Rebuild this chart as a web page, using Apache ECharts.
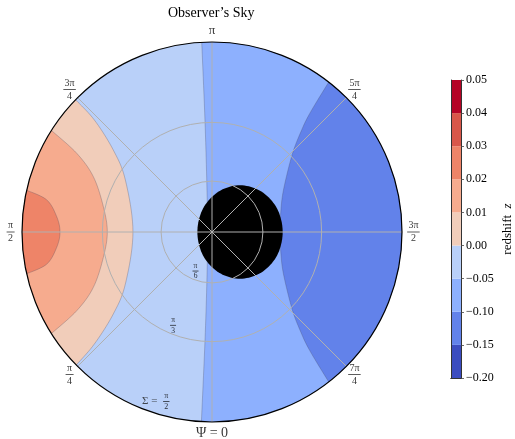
<!DOCTYPE html>
<html>
<head>
<meta charset="utf-8">
<script src="https://cdn.jsdelivr.net/npm/echarts@6/dist/echarts.min.js"></script>
<style>
html, body { margin: 0; padding: 0; background: #fff; }
#chart { width: 515px; height: 439px; }
</style>
</head>
<body>
<div id="chart"></div>
<script>
const FONT = 'Liberation Serif';

// colour bar: level ticks (bottom to top) and the colour of each band
const levelTicks = ['−0.20', '−0.15', '−0.10', '−0.05', '0.00', '0.01', '0.02', '0.03', '0.04', '0.05'];
const levelColors = ['#3b4cc0', '#6282ea', '#8db0fe', '#b9d0f9', '#f1cdba', '#f6ab8e', '#ee8468', '#d8574a', '#b40426'];

// contour edges, points are [tan(Sigma/2), Psi in degrees]
// Psi = 0 at the bottom, growing clockwise
const edgeM010 = [[1.0, 217.9], [0.809, 219.5], [0.704, 221.6], [0.585, 226.1], [0.436, 239.6], [0.377, 253.8], [0.358, 270],
                  [0.377, 286.2], [0.436, 300.4], [0.585, 313.9], [0.704, 318.4], [0.809, 320.5], [1.0, 322.1]];
const edgeM005 = [[1.0, 176.9], [0.591, 176.4], [0.223, 173.2], [0.024, 90], [0.228, 6.6], [0.570, 3.7], [1.0, 3.2]];
const edgeP000 = [[1.0, 134.1], [0.855, 133.6], [0.675, 129.7], [0.532, 121.0], [0.416, 90], [0.532, 59.0], [0.675, 50.3], [0.855, 46.4], [1.0, 45.6]];
const edgeP001 = [[1.0, 122.3], [0.824, 120.2], [0.689, 115.0], [0.587, 103.1], [0.551, 90], [0.587, 76.9], [0.689, 65.0], [0.824, 59.8], [1.0, 57.7]];
const edgeP002 = [[1.0, 102.7], [0.886, 101.0], [0.821, 95.6], [0.800, 90], [0.821, 84.4], [0.886, 79.0], [1.0, 77.3]];

// edge of the black shadow
const shadowEdge = [[0.372, 270], [0.364, 289.8], [0.336, 309.3], [0.287, 329], [0.216, 350.6], [0.132, 21], [0.077, 90], [0.132, 159], [0.216, 189.4], [0.287, 211], [0.336, 230.7], [0.364, 250.2]];

// axis ticks
const angleTicks = [0, 45, 90, 135, 180, 225, 270, 315];
const angleTickText = ['Ψ = 0', 'π/4', 'π/2', '3π/4', 'π', '5π/4', '3π/2', '7π/4'];
const radiusTicks = [0.268, 0.577, 1.0];
const radiusTickText = ['π/6', 'π/3', 'Σ = π/2'];

// painted in order, later ones on top
const regions = [
    { edge: null, color: levelColors[3] },
    { edge: edgeM005, via: 270, color: levelColors[2] },
    { edge: edgeM010, via: 270, color: levelColors[1] },
    { edge: edgeP000, via: 90, color: levelColors[4] },
    { edge: edgeP001, via: 90, color: levelColors[5] },
    { edge: edgeP002, via: 90, color: levelColors[6] },
    { shadow: true }
];

const LABEL_R = 1.06;
const RADIAL_LABEL_ANGLE = 22.5;
const radialLabelOffsets = [[3, -8], [3, -8], [15, -6]];

/**
 * rim arc from a0 to a1 that passes through "via"
 */
function rimAngles(a0, a1, via) {
    const mod = v => ((v % 360) + 360) % 360;
    const inc = mod(a1 - a0);
    const out = [];
    if (mod(via - a0) < inc) {
        for (let a = a0; a < a0 + inc; a += 2) out.push(a);
    } else {
        const dec = 360 - inc;
        for (let a = a0; a > a0 - dec; a -= 2) out.push(a);
    }
    return out;
}

/**
 * catmull-rom curve through pixel points
 */
function curveThrough(pts, closed, steps = 10) {
    const n = pts.length;
    const get = i => closed ? pts[(i + n) % n] : pts[Math.max(0, Math.min(n - 1, i))];
    const segs = closed ? n : n - 1;
    const out = [];
    for (let i = 0; i < segs; i++) {
        const p0 = get(i - 1), p1 = get(i), p2 = get(i + 1), p3 = get(i + 2);
        for (let s = 0; s < steps; s++) {
            const t = s / steps, t2 = t * t, t3 = t2 * t;
            out.push([0, 1].map(k => 0.5 * (2 * p1[k] + (p2[k] - p0[k]) * t +
                (2 * p0[k] - 5 * p1[k] + 4 * p2[k] - p3[k]) * t2 +
                (3 * p1[k] - p0[k] - 3 * p2[k] + p3[k]) * t3)));
        }
    }
    if (!closed) out.push(pts[n - 1]);
    return out;
}

function renderRegion(params, api) {
    const reg = regions[params.dataIndex];
    const c = api.coord([0, 0]);
    const rim = api.coord([1, 0]);
    const R = Math.hypot(rim[0] - c[0], rim[1] - c[1]);

    if (reg.shadow) {
        return {
            type: 'polygon',
            shape: { points: curveThrough(shadowEdge.map(p => api.coord(p)), true) },
            style: { fill: '#000' }
        };
    }
    if (!reg.edge) {
        return { type: 'circle', shape: { cx: c[0], cy: c[1], r: R }, style: { fill: reg.color } };
    }

    const edgePts = curveThrough(reg.edge.map(p => api.coord(p)), false);
    const last = reg.edge[reg.edge.length - 1][1];
    const first = reg.edge[0][1];
    const rimPts = rimAngles(last, first, reg.via).map(a => api.coord([1, a]));

    return {
        type: 'group',
        children: [
            {
                type: 'polygon',
                shape: { points: edgePts.concat(rimPts) },
                style: { fill: reg.color }
            },
            {
                type: 'polyline',
                shape: { points: edgePts },
                style: { fill: null, stroke: 'rgba(70,70,90,0.4)', lineWidth: 0.7 }
            }
        ]
    };
}

/**
 * tick text as rich text, fractions stacked
 */
function tickRich(txt, big, small) {
    const rich = {
        t: { fontFamily: FONT, fontSize: big, color: '#000' },
        m: { fontFamily: FONT, fontSize: big, lineHeight: 3, color: '#222', width: 24, align: 'center' },
        s: { fontSize: small, lineHeight: small, width: 24, align: 'center' },
        n: { fontFamily: FONT, fontSize: small, lineHeight: small, color: '#000', align: 'center' },
        d: { fontFamily: FONT, fontSize: small, lineHeight: small, color: '#000', align: 'center' },
        b: { height: 0.8, lineHeight: 3, backgroundColor: '#000', align: 'center' }
    };
    if (txt.indexOf('/') < 0) return { text: '{t|' + txt + '}', rich };

    let lhs = null, frac = txt;
    if (txt.indexOf(' = ') >= 0) [lhs, frac] = txt.split(' = ');
    const [num, den] = frac.split('/');
    const w = num.length > 1 ? small * 1.25 : small * 0.8;
    rich.b.width = w;

    if (!lhs) {
        return { text: '{n|' + num + '}\n{b| }\n{d|' + den + '}', rich };
    }
    rich.n.width = w;
    rich.d.width = w;
    return {
        text: '{s| }{n|' + num + '}\n{m|' + lhs + ' = }{b| }\n{s| }{d|' + den + '}',
        rich
    };
}

const angleLabelData = angleTicks.map((a, i) => {
    const big = i === 0 ? 14 : 13;
    const r = tickRich(angleTickText[i], big, 10);
    return { name: r.text, value: [LABEL_R, a], label: { rich: r.rich } };
});

const radialLabelData = radiusTicks.map((v, i) => {
    const r = tickRich(radiusTickText[i], 11, i === 2 ? 8 : 7.5);
    return {
        name: r.text,
        value: [v, RADIAL_LABEL_ANGLE],
        label: { rich: r.rich, offset: radialLabelOffsets[i] }
    };
});

const chart = echarts.init(document.getElementById('chart'), null, { renderer: 'canvas' });

chart.setOption({
    animation: false,
    backgroundColor: '#fff',

    title: {
        text: 'Observer’s Sky',
        left: 168,
        top: 6,
        padding: 0,
        textStyle: { fontFamily: FONT, fontSize: 14, fontWeight: 'normal', color: '#000' }
    },

    polar: { center: [212, 232], radius: 190 },

    angleAxis: {
        type: 'value',
        min: 0,
        max: 360,
        interval: 45,
        startAngle: 270,
        clockwise: true,
        z: 5,
        axisLine: { show: true, lineStyle: { color: '#000', width: 1.2 } },
        axisTick: { show: false },
        axisLabel: { show: false },
        splitLine: { show: true, lineStyle: { color: '#b0b0b0', width: 1 } }
    },

    radiusAxis: {
        type: 'value',
        min: 0,
        max: 1,
        z: 5,
        axisLine: { show: false },
        axisTick: { show: false, customValues: radiusTicks.slice(0, 2) },
        axisLabel: { show: false },
        splitLine: { show: true, lineStyle: { color: '#b0b0b0', width: 1 } }
    },

    // colour bar
    grid: { left: 451, top: 80, width: 13, height: 298 },

    xAxis: [
        { type: 'category', data: ['z'], position: 'bottom', z: 10,
          axisLine: { show: true, lineStyle: { color: '#333', width: 1 } },
          axisTick: { show: false }, axisLabel: { show: false } },
        { type: 'category', data: ['z'], position: 'top', z: 10,
          axisLine: { show: true, lineStyle: { color: '#333', width: 1 } },
          axisTick: { show: false }, axisLabel: { show: false } }
    ],

    yAxis: [
        {
            type: 'value', min: 0, max: 9, interval: 1, position: 'right', z: 10,
            axisLine: { show: true, lineStyle: { color: '#333', width: 1 } },
            axisTick: { show: true, length: 3, lineStyle: { color: '#444', width: 0.8 } },
            axisLabel: {
                formatter: v => levelTicks[v],
                fontFamily: FONT, fontSize: 12, color: '#000', margin: 5
            },
            splitLine: { show: false },
            name: 'redshift  {i|z}',
            nameLocation: 'middle',
            nameRotate: 90,
            nameGap: 40,
            nameTextStyle: {
                fontFamily: FONT, fontSize: 13, color: '#000',
                rich: { i: { fontFamily: FONT, fontSize: 13, fontStyle: 'italic', color: '#000' } }
            }
        },
        {
            type: 'value', min: 0, max: 9, position: 'left', z: 10,
            axisLine: { show: true, lineStyle: { color: '#333', width: 1 } },
            axisTick: { show: false }, axisLabel: { show: false }, splitLine: { show: false }
        }
    ],

    series: [
        {
            type: 'custom',
            coordinateSystem: 'polar',
            renderItem: renderRegion,
            data: regions.map((r, i) => i),
            silent: true,
            z: 2
        },
        {
            type: 'scatter',
            coordinateSystem: 'polar',
            symbolSize: 0,
            clip: false,
            silent: true,
            z: 8,
            label: { show: true, position: 'inside', formatter: p => p.name },
            data: angleLabelData.concat(radialLabelData)
        },
        ...levelColors.map(c => ({
            type: 'bar',
            stack: 'cb',
            xAxisIndex: 0,
            yAxisIndex: 0,
            barWidth: '100%',
            silent: true,
            itemStyle: { color: c },
            data: [1]
        }))
    ]
});
</script>
</body>
</html>
